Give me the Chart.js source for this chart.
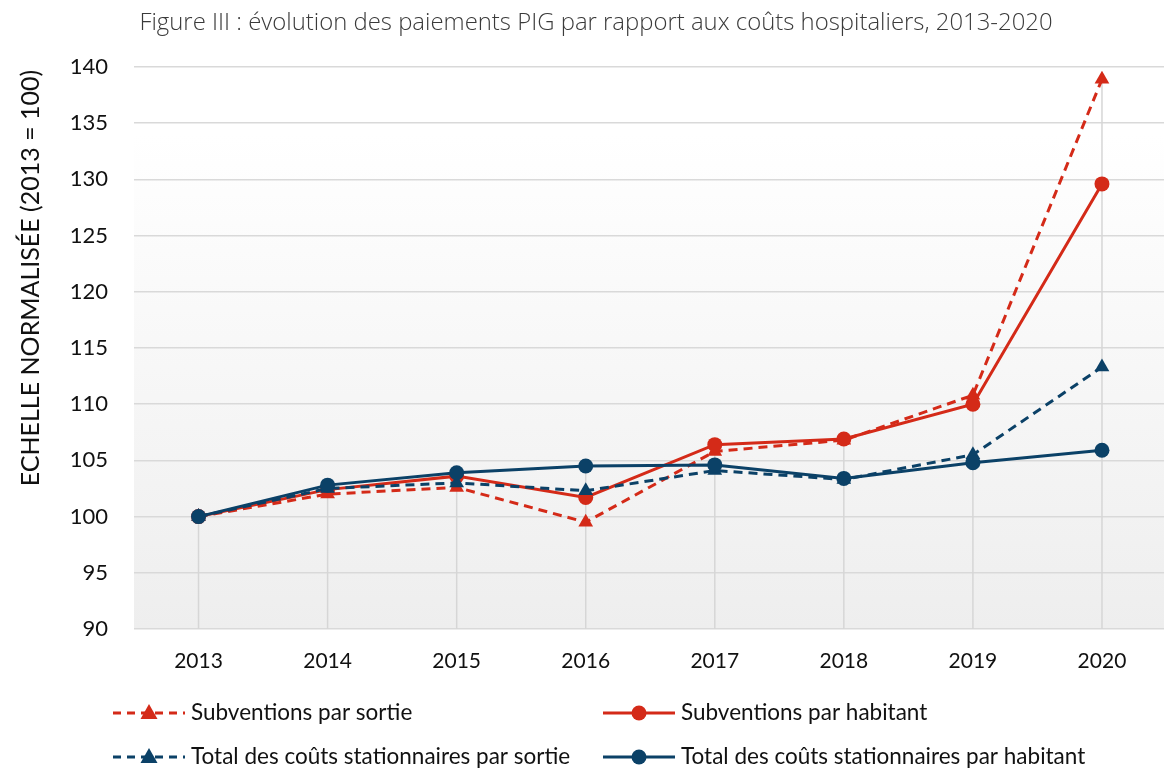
<!DOCTYPE html>
<html>
<head>
<meta charset="utf-8">
<script src="https://cdn.jsdelivr.net/npm/chart.js@4/dist/chart.umd.min.js"></script>
<style>
  html, body { margin: 0; padding: 0; background: #fff; overflow: hidden; }
  #chart { display: block; }
</style>
</head>
<body>
<!-- the plot runs slightly past the right edge of the picture, so the canvas is a bit wider than the window -->
<canvas id="chart" width="1175" height="771"></canvas>
<script>
const years = ['2013', '2014', '2015', '2016', '2017', '2018', '2019', '2020'];
const subvSortie = [100, 102.0, 102.6, 99.5, 105.8, 106.8, 110.8, 138.9];
const subvHabitant = [100, 102.4, 103.6, 101.7, 106.4, 106.9, 110.0, 129.6];
const totalSortie = [100, 102.5, 103.0, 102.3, 104.1, 103.3, 105.5, 113.3];
const totalHabitant = [100, 102.8, 103.9, 104.5, 104.6, 103.4, 104.8, 105.9];
const yRange = [90, 140];
const yStep = 5;

const RED = '#d42a18';
const BLUE = '#0b4167';
const FONT = 'Lato, "Open Sans", sans-serif';

const seriesInfo = [
  { label: 'Subventions par sortie', data: subvSortie, color: RED, dashed: true, style: 'triangle' },
  { label: 'Subventions par habitant', data: subvHabitant, color: RED, dashed: false, style: 'circle' },
  { label: 'Total des coûts stationnaires par sortie', data: totalSortie, color: BLUE, dashed: true, style: 'triangle' },
  { label: 'Total des coûts stationnaires par habitant', data: totalHabitant, color: BLUE, dashed: false, style: 'circle' }
];
// draw order: blue solid on top, red dashed at the bottom
const drawOrder = [4, 3, 2, 1];

const datasets = seriesInfo.map((s, i) => ({
  label: s.label,
  data: s.data,
  borderColor: s.color,
  backgroundColor: s.color,
  borderWidth: 3,
  borderDash: s.dashed ? [9, 6] : [],
  pointStyle: s.style,
  pointRadius: s.style === 'triangle' ? 8.5 : 7.5,
  pointHoverRadius: 8,
  pointBorderWidth: 0,
  tension: 0,
  order: drawOrder[i]
}));

const backdrop = {
  id: 'backdrop',
  beforeDraw(chart) {
    const { ctx, chartArea: a } = chart;
    const g = ctx.createLinearGradient(0, a.top, 0, a.bottom);
    g.addColorStop(0, '#ffffff');
    g.addColorStop(0.12, '#ffffff');
    g.addColorStop(1, '#eeeeee');
    ctx.save();
    ctx.fillStyle = g;
    ctx.fillRect(a.left, a.top, a.right - a.left, a.bottom - a.top);
    ctx.restore();
  }
};

// vertical drop lines from the highest point of each year down to the axis
const dropLines = {
  id: 'dropLines',
  beforeDatasetsDraw(chart) {
    const { ctx, scales: { x, y } } = chart;
    ctx.save();
    ctx.strokeStyle = '#d6d6d6';
    ctx.lineWidth = 1.5;
    years.forEach((yr, i) => {
      const top = Math.max(...seriesInfo.map(s => s.data[i]));
      const px = x.getPixelForValue(i);
      ctx.beginPath();
      ctx.moveTo(px, y.getPixelForValue(top));
      ctx.lineTo(px, y.getPixelForValue(yRange[0]));
      ctx.stroke();
    });
    ctx.restore();
  }
};

function drawMarker(ctx, style, cx, cy, color) {
  ctx.fillStyle = color;
  ctx.beginPath();
  if (style === 'circle') {
    ctx.arc(cx, cy, 7.5, 0, Math.PI * 2);
  } else {
    ctx.moveTo(cx, cy - 9);
    ctx.lineTo(cx + 8.5, cy + 6);
    ctx.lineTo(cx - 8.5, cy + 6);
    ctx.closePath();
  }
  ctx.fill();
}

const textBits = {
  id: 'textBits',
  afterDraw(chart) {
    const { ctx } = chart;
    ctx.save();
    // title
    ctx.fillStyle = '#3a3a3a';
    ctx.font = '300 23.9px "Open Sans", sans-serif';
    ctx.textAlign = 'center';
    ctx.textBaseline = 'middle';
    ctx.fillText('Figure III : évolution des paiements PIG par rapport aux coûts hospitaliers, 2013-2020', 596, 23);

    // y axis title
    ctx.save();
    ctx.translate(31, 278);
    ctx.rotate(-Math.PI / 2);
    ctx.fillStyle = '#111';
    ctx.font = '25px ' + FONT;
    ctx.fillText('ECHELLE NORMALISÉE (2013 = 100)', 0, 0);
    ctx.restore();

    // legend, 2 x 2 grid
    const cols = [113, 603];
    const rows = [713, 757];
    seriesInfo.forEach((s, i) => {
      const x0 = cols[i % 2];
      const yy = rows[Math.floor(i / 2)];
      ctx.strokeStyle = s.color;
      ctx.lineWidth = 3;
      ctx.setLineDash(s.dashed ? [8, 6] : []);
      ctx.beginPath();
      ctx.moveTo(x0, yy);
      ctx.lineTo(x0 + 72, yy);
      ctx.stroke();
      ctx.setLineDash([]);
      drawMarker(ctx, s.style, x0 + 36, yy, s.color);
      ctx.fillStyle = '#111';
      ctx.font = '22.5px ' + FONT;
      ctx.textAlign = 'left';
      ctx.fillText(s.label, x0 + 78, yy);
    });
    ctx.restore();
  }
};

new Chart(document.getElementById('chart'), {
  type: 'line',
  data: { labels: years, datasets },
  options: {
    responsive: false,
    animation: false,
    layout: { padding: { top: 67, left: 0, right: 0, bottom: 0 } },
    plugins: {
      legend: { display: false },
      title: { display: false },
      tooltip: { enabled: false }
    },
    scales: {
      x: {
        offset: true,
        grid: { display: false },
        border: { display: false },
        ticks: { color: '#111', font: { family: FONT, size: 21 }, padding: 12, maxRotation: 0 },
        afterFit(scale) {
          scale.height = 142;
          scale.paddingLeft = 0;
          scale.paddingRight = 0;
        }
      },
      y: {
        min: yRange[0],
        max: yRange[1],
        grid: { color: '#d9d9d9', lineWidth: 1.5, drawTicks: false },
        border: { display: false },
        ticks: { stepSize: yStep, color: '#111', font: { family: FONT, size: 22 }, padding: 26 },
        afterFit(scale) { scale.width = 134; }
      }
    }
  },
  plugins: [backdrop, dropLines, textBits]
});
</script>
</body>
</html>
